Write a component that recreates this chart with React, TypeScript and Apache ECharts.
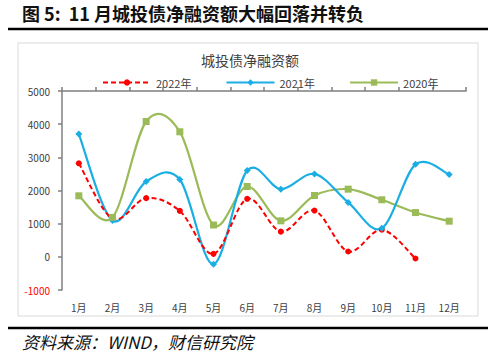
import React, { useEffect, useRef } from "react";
import * as echarts from "echarts";

const months = ["1月", "2月", "3月", "4月", "5月", "6月", "7月", "8月", "9月", "10月", "11月", "12月"];
const y2022 = [2820, 1150, 1770, 1385, 90, 1750, 760, 1395, 160, 820, -50];
const y2021 = [3700, 1095, 2270, 2330, -220, 2600, 2040, 2500, 1640, 860, 2790, 2480];
const y2020 = [1840, 1190, 4080, 3770, 960, 2120, 1085, 1850, 2040, 1720, 1335, 1075];
const yTicks = { min: -1000, max: 5000, interval: 1000 };

const cjk = '"Noto Sans CJK SC", "Noto Sans", sans-serif';

const RED = "#ff0000";
const BLUE = "#1aaee5";
const GREEN = "#9bbb59";

// Catmull-Rom style smoothing through the projected points (spreadsheet-like curves)
function smoothPath(pts: number[][]): string {
  if (!pts.length) return "";
  let d = `M${pts[0][0]},${pts[0][1]}`;
  for (let i = 0; i < pts.length - 1; i++) {
    const p0 = pts[Math.max(i - 1, 0)];
    const p1 = pts[i];
    const p2 = pts[i + 1];
    const p3 = pts[Math.min(i + 2, pts.length - 1)];
    const c1x = p1[0] + (p2[0] - p0[0]) / 6;
    const c1y = p1[1] + (p2[1] - p0[1]) / 6;
    const c2x = p2[0] - (p3[0] - p1[0]) / 6;
    const c2y = p2[1] - (p3[1] - p1[1]) / 6;
    d += ` C${c1x},${c1y} ${c2x},${c2y} ${p2[0]},${p2[1]}`;
  }
  return d;
}

function curveSeries(id: string, values: number[], color: string, width: number, dash?: number[]) {
  return {
    id,
    type: "custom",
    xAxisIndex: 0,
    yAxisIndex: 0,
    clip: false,
    silent: true,
    z: 1,
    data: values.map((v, i) => [i, v]),
    renderItem: (params: any, api: any) => {
      if (params.dataIndex !== 0) return null;
      const pts = values.map((v, i) => api.coord([i, v]));
      return {
        type: "path",
        shape: { pathData: smoothPath(pts) },
        style: {
          fill: "none",
          stroke: color,
          lineWidth: width,
          lineDash: dash,
        },
      };
    },
  };
}

function markerSeries(name: string, values: number[], color: string, symbol: string, size: number) {
  return {
    name,
    type: "line",
    data: values,
    symbol,
    symbolSize: size,
    itemStyle: { color },
    lineStyle: { width: 0, opacity: 0, color },
    z: 5,
  };
}

export default function App() {
  const ref = useRef<HTMLDivElement>(null);
  useEffect(() => {
    document.body.style.margin = "0";
    const chart = echarts.init(ref.current!, undefined, { renderer: "svg" });
    chart.setOption({
      animation: false,
      backgroundColor: "#ffffff",
      textStyle: { fontFamily: cjk },
      title: {
        text: "城投债净融资额",
        left: "center",
        top: 48,
        textStyle: { fontSize: 14, fontWeight: "normal", color: "#404040", fontFamily: cjk },
      },
      legend: {
        top: 72,
        left: 97,
        itemWidth: 48,
        itemHeight: 8,
        itemGap: 34,
        textStyle: { fontSize: 11, color: "#404040", fontFamily: cjk },
        data: [
          {
            name: "2022年",
            itemStyle: { color: RED },
            lineStyle: { color: RED, width: 2, type: [5, 3], opacity: 1 },
          },
          {
            name: "2021年",
            itemStyle: { color: BLUE },
            lineStyle: { color: BLUE, width: 2.2, type: "solid", opacity: 1 },
          },
          {
            name: "2020年",
            itemStyle: { color: GREEN },
            lineStyle: { color: GREEN, width: 2.2, type: "solid", opacity: 1 },
          },
        ],
      },
      grid: { left: 62, right: 34, top: 91, bottom: 70 },
      xAxis: [
        {
          type: "category",
          data: months,
          boundaryGap: true,
          axisLine: { show: false },
          axisTick: { show: false },
          axisLabel: { fontSize: 10, color: "#404040", margin: 12 },
        },
        {
          type: "category",
          data: months,
          boundaryGap: true,
          axisLine: { show: true, onZero: true, lineStyle: { color: "#7f7f7f", width: 1.5 } },
          axisTick: { show: true, length: 4, lineStyle: { color: "#7f7f7f", width: 1.5 } },
          axisLabel: { show: false },
        },
      ],
      yAxis: {
        type: "value",
        min: yTicks.min,
        max: yTicks.max,
        interval: yTicks.interval,
        splitLine: { show: false },
        axisLine: { show: true, lineStyle: { color: "#7f7f7f", width: 1.5 } },
        axisTick: { show: true, length: 4, lineStyle: { color: "#7f7f7f", width: 1.5 } },
        axisLabel: {
          fontSize: 10,
          margin: 12,
          formatter: (v: number) => String(v),
          color: (v: any) => (Number(v) < 0 ? RED : "#404040"),
        },
      },
      series: [
        curveSeries("curve2020", y2020, GREEN, 2.2),
        curveSeries("curve2021", y2021, BLUE, 2.2),
        curveSeries("curve2022", y2022, RED, 2, [5, 3]),
        markerSeries("2022年", y2022, RED, "circle", 6),
        markerSeries("2021年", y2021, BLUE, "diamond", 7),
        markerSeries("2020年", y2020, GREEN, "rect", 7),
      ],
      graphic: [
        {
          type: "text",
          left: 22,
          top: 4,
          style: {
            text: "图 5:  11 月城投债净融资额大幅回落并转负",
            font: `bold 18px ${cjk}`,
            fill: "#111111",
          },
        },
        {
          type: "line",
          shape: { x1: 8, y1: 29, x2: 488, y2: 29 },
          style: { stroke: "#000000", lineWidth: 2.5 },
        },
        {
          type: "rect",
          shape: { x: 18, y: 43, width: 460, height: 273 },
          style: { fill: "none", stroke: "#d9d9d9", lineWidth: 1 },
          z: -1,
        },
        {
          type: "line",
          shape: { x1: 8, y1: 328, x2: 488, y2: 328 },
          style: { stroke: "#000000", lineWidth: 2.5 },
        },
        {
          type: "text",
          left: 22,
          top: 333,
          style: {
            text: "资料来源：WIND，财信研究院",
            font: `italic 17px ${cjk}`,
            fill: "#111111",
          },
        },
      ],
    });
    return () => chart.dispose();
  }, []);
  return <div ref={ref} style={{ width: 500, height: 360 }} />;
}
